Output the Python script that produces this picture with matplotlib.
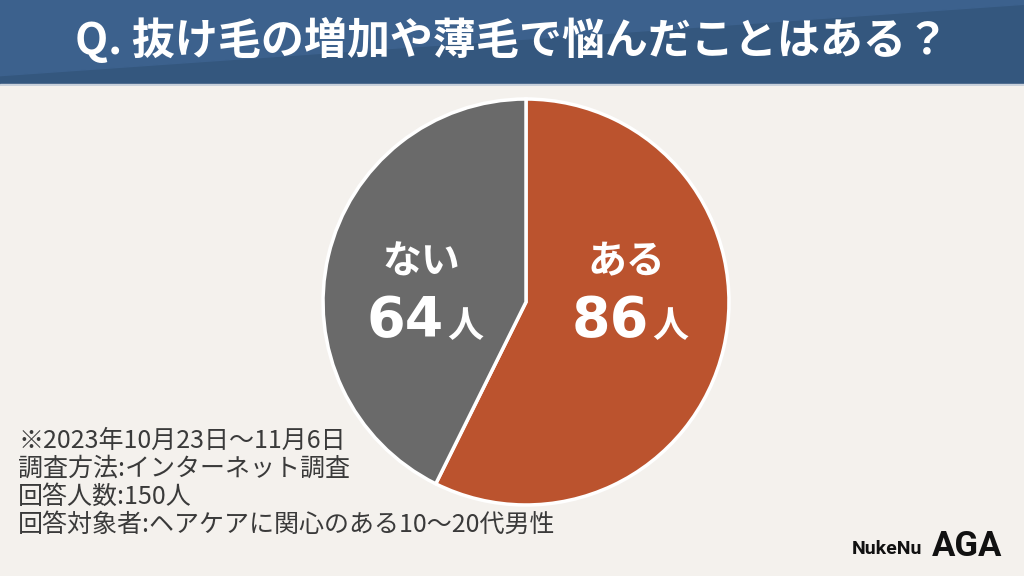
#!/usr/bin/env python3
"""Survey pie: hair loss / thinning worries (NukeNu AGA)."""

import matplotlib

matplotlib.use("Agg")
import matplotlib.pyplot as plt
from matplotlib.patches import Polygon, Rectangle

plt.rcParams["font.family"] = ["Noto Sans CJK JP", "DejaVu Sans"]

TITLE = "Q. 抜け毛の増加や薄毛で悩んだことはある？"
labels = ["ある", "ない"]
counts = [86, 64]
colors = ["#bb532e", "#6a6a6a"]
unit = "人"
notes = [
    "※2023年10月23日〜11月6日",
    "調査方法:インターネット調査",
    "回答人数:150人",
    "回答対象者:ヘアケアに関心のある10〜20代男性",
]

W, H = 1024, 576
BG = "#f4f1ed"

fig = plt.figure(figsize=(W / 100, H / 100), dpi=100, facecolor=BG)

# header band
hdr = fig.add_axes([0, 1 - 86 / H, 1, 86 / H])
hdr.set_xlim(0, 1)
hdr.set_ylim(0, 1)
hdr.axis("off")
hdr.add_patch(Rectangle((0, 0), 1, 1, color="#34577e"))
hdr.add_patch(Polygon([(0, 1), (1, 1), (1, 0.95), (0, 0.12)], color="#3c618d"))
hdr.add_patch(Rectangle((0, 0), 1, 0.025, color="#c9d1db"))
hdr.text(0.5, 0.53, TITLE, ha="center", va="center", color="white",
         fontsize=31, fontweight="bold")

# pie
cx, cy, r = 526, 302, 205
ax = fig.add_axes([(cx - r) / W, (H - cy - r) / H, 2 * r / W, 2 * r / H])
ax.pie(counts, colors=colors, startangle=90, counterclock=False,
       wedgeprops={"edgecolor": "white", "linewidth": 2.5})
ax.set_xlim(-1.01, 1.01)
ax.set_ylim(-1.01, 1.01)
ax.set_aspect("equal")

label_pos = {"ある": 626, "ない": 421}
for name, n in zip(labels, counts):
    x = label_pos[name]
    fig.text(x / W, 1 - 262 / H, name, ha="center", va="center", color="white",
             fontsize=28, fontweight="bold")
    fig.text((x + 23) / W, 1 - 321 / H, str(n), ha="right", va="center",
             color="white", fontsize=40, fontweight="bold",
             family=["DejaVu Sans"])
    fig.text((x + 26) / W, 1 - 327 / H, unit, ha="left", va="center",
             color="white", fontsize=26, fontweight="bold")

for i, line in enumerate(notes):
    fig.text(18 / W, 1 - (441 + 28 * i) / H, line, ha="left", va="center",
             color="#3a3a3a", fontsize=18)

fig.text(852 / W, 1 - 549 / H, "NukeNu", ha="left", va="center",
         color="#111111", fontsize=14, fontweight="bold", family=["Roboto", "DejaVu Sans"])
fig.text(932 / W, 1 - 546 / H, "AGA", ha="left", va="center",
         color="#111111", fontsize=25, fontweight="bold", family=["Roboto", "DejaVu Sans"])

fig.savefig("out.png", dpi=100, facecolor=BG)
